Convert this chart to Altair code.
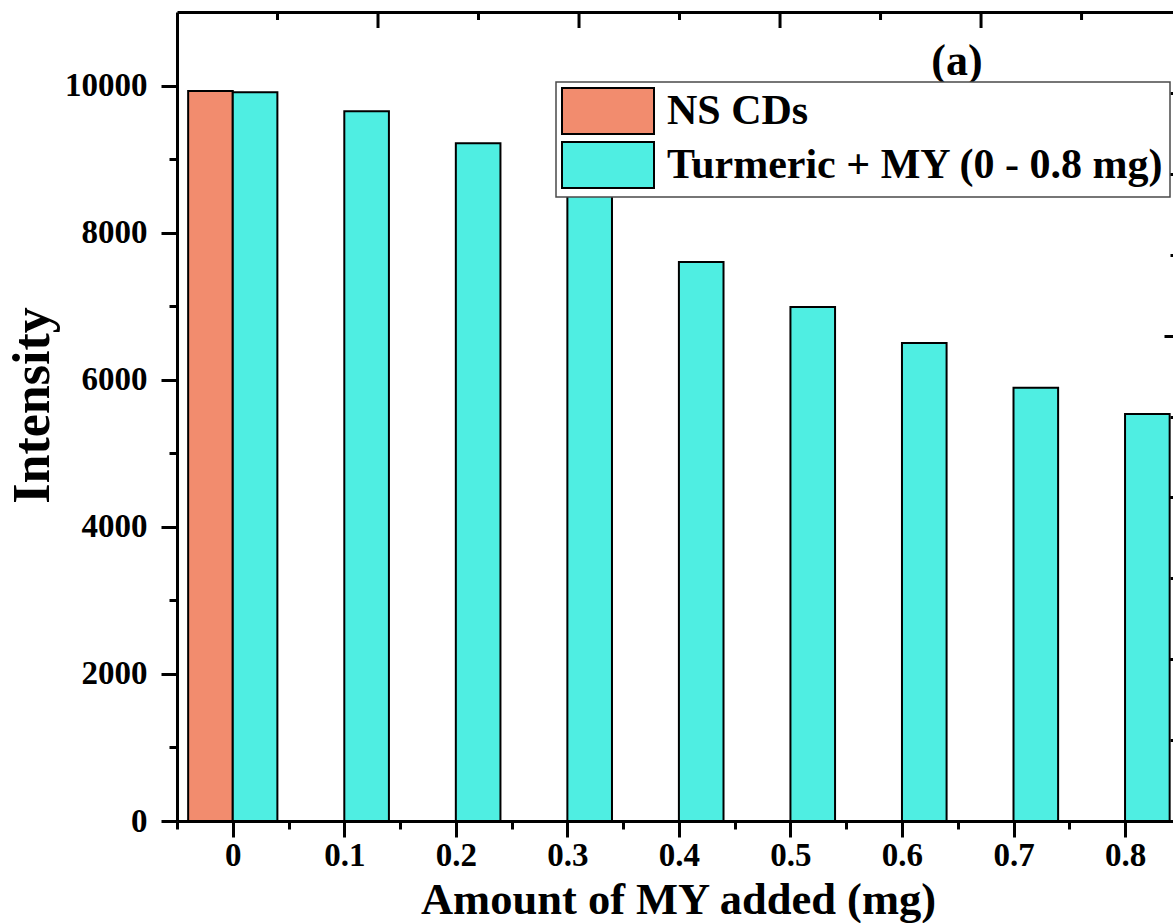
import altair as alt
import pandas as pd

# ---------------- data ----------------
amounts = [0.0, 0.0, 0.1, 0.2, 0.3, 0.4, 0.5, 0.6, 0.7, 0.8]
series = ["NS CDs"] + ["Turmeric + MY (0 - 0.8 mg)"] * 9
intensity = [9925, 9910, 9650, 9215, 8700, 7600, 6990, 6500, 5890, 5535]

series_names = ["NS CDs", "Turmeric + MY (0 - 0.8 mg)"]
series_colors = ["#F28C6E", "#4FEEE2"]

x_ticks = [0, 0.1, 0.2, 0.3, 0.4, 0.5, 0.6, 0.7, 0.8]
x_minor = [-0.05, 0.05, 0.15, 0.25, 0.35, 0.45, 0.55, 0.65, 0.75]
y_ticks = [0, 2000, 4000, 6000, 8000, 10000]
y_minor = [1000, 3000, 5000, 7000, 9000]
top_major = [1, 2, 3, 4]
top_minor = [0.5, 1.5, 2.5, 3.5, 4.5]
right_major = [1, 2, 3, 4]
right_minor = [0.5, 1.5, 2.5, 3.5, 4.5]

x_title = "Amount of MY added (mg)"
y_title = "Intensity"
panel_label = ["(a)"]

# ---------------- styling ----------------
FONT = "Liberation Serif"
BAR_W = 0.04
X_DOM = [-0.05, 0.843]
Y_DOM = [0, 11000]
TOP_DOM = [0, 4.955]
RIGHT_DOM = [0, 5]
W, H = 996, 809

df = pd.DataFrame({"amount": amounts, "series": series, "intensity": intensity})
base = alt.Chart(df)


def sx(dom):
    return alt.Scale(domain=dom, nice=False, zero=False, clamp=True)


bars = base.transform_calculate(
    x_end=f"datum.series === '{series_names[0]}' ? datum.amount - {BAR_W} : datum.amount + {BAR_W}",
    y_base="0",
).mark_rect(stroke="black", strokeWidth=2).encode(
    x=alt.X(
        "amount:Q",
        scale=sx(X_DOM),
        axis=alt.Axis(
            orient="bottom", values=x_ticks, format=".1~f", tickSize=16, tickWidth=3,
            tickColor="black", domain=True, domainWidth=3, domainColor="black",
            labelFont=FONT, labelFontSize=33, labelFontWeight="bold", labelColor="black",
            labelBaseline="alphabetic", labelPadding=28, labelAngle=0, labelFlush=False,
            labelOverlap=False,
            title=x_title, titleFont=FONT, titleFontSize=44.5, titleFontWeight="bold",
            titleColor="black", titleX=501, titleY=92, titleAlign="center",
            titleBaseline="alphabetic", grid=False,
        ),
    ),
    x2="x_end:Q",
    y=alt.Y(
        "intensity:Q",
        scale=sx(Y_DOM),
        axis=alt.Axis(
            orient="left", values=y_ticks, format="d", tickSize=16, tickWidth=3,
            tickColor="black", domain=True, domainWidth=3, domainColor="black",
            labelFont=FONT, labelFontSize=33, labelFontWeight="bold", labelColor="black",
            labelPadding=14, labelFlush=False, labelOverlap=False,
            title=y_title, titleFont=FONT, titleFontSize=52, titleFontWeight="bold",
            titleColor="black", titleAngle=270, titleX=-129, titleY=393,
            titleAlign="center", titleBaseline="alphabetic", grid=False,
        ),
    ),
    y2="y_base:Q",
    color=alt.Color(
        "series:N",
        scale=alt.Scale(domain=series_names, range=series_colors),
        legend=alt.Legend(
            title=None, orient="none", legendX=379, legendY=70, direction="vertical",
            symbolType="M-2,-1H2V1H-2Z", symbolSize=2116, symbolStrokeColor="black",
            symbolStrokeWidth=2, symbolOpacity=1, symbolOffset=23,
            labelFont=FONT, labelFontSize=42, labelFontWeight="bold", labelColor="black",
            labelOffset=35, labelLimit=0, padding=5, rowPadding=0,
            fillColor="white", strokeColor="#4a4a4a",
        ),
    ),
)


def ghost(x_axis, y_axis, x_dom, y_dom):
    return base.mark_point(opacity=0, size=1).encode(
        x=alt.X("amount:Q", scale=sx(x_dom), axis=x_axis),
        y=alt.Y("intensity:Q", scale=sx(y_dom), axis=y_axis),
    )


tick_common = dict(labels=False, title=None, grid=False,
                   tickColor="black", tickWidth=3, domain=False)

# minor ticks on the bottom and left axes
minor_layer = ghost(
    alt.Axis(orient="bottom", values=x_minor, tickSize=8, **tick_common),
    alt.Axis(orient="left", values=y_minor, tickSize=8, **tick_common),
    X_DOM, Y_DOM,
)

# right-side ticks (pointing inward; the right frame lies beyond the picture)
right_major_layer = ghost(
    None,
    alt.Axis(orient="right", values=right_major, tickSize=16, offset=-9, **tick_common),
    X_DOM, RIGHT_DOM,
)
right_minor_layer = ghost(
    None,
    alt.Axis(orient="right", values=right_minor, tickSize=8, offset=-3, **tick_common),
    X_DOM, RIGHT_DOM,
)

# top frame with inward ticks
top_major_df = pd.DataFrame({"pos": top_major})
top_minor_df = pd.DataFrame({"pos": top_minor})

top_major_rules = alt.Chart(top_major_df).mark_rule(color="black", strokeWidth=3).encode(
    x=alt.X("pos:Q", scale=alt.Scale(domain=TOP_DOM, nice=False, zero=False),
            axis=alt.Axis(orient="top", ticks=False, labels=False, domain=True,
                          domainWidth=3, domainColor="black", title=None, grid=False)),
    y=alt.value(0),
    y2=alt.value(16),
)
top_minor_rules = alt.Chart(top_minor_df).mark_rule(color="black", strokeWidth=3).encode(
    x=alt.X("pos:Q", scale=alt.Scale(domain=TOP_DOM, nice=False, zero=False), axis=None),
    y=alt.value(0),
    y2=alt.value(8),
)

label_layer = alt.Chart(pd.DataFrame({"label": panel_label})).mark_text(
    font=FONT, fontSize=44, fontWeight="bold", color="black",
    align="center", baseline="alphabetic",
).encode(text="label:N", x=alt.value(780), y=alt.value(63))

chart = alt.layer(
    bars, minor_layer, right_major_layer, right_minor_layer,
    top_major_rules, top_minor_rules, label_layer
).resolve_scale(
    x="independent", y="independent"
).properties(
    width=W, height=H,
    autosize=alt.AutoSizeParams(type="none"),
    padding={"left": 177, "top": 12, "right": 0, "bottom": 102},
).configure_view(stroke=None).configure_legend(strokeWidth=1.5)

chart.save("out.html", embed_options={"renderer": "svg", "actions": False})
